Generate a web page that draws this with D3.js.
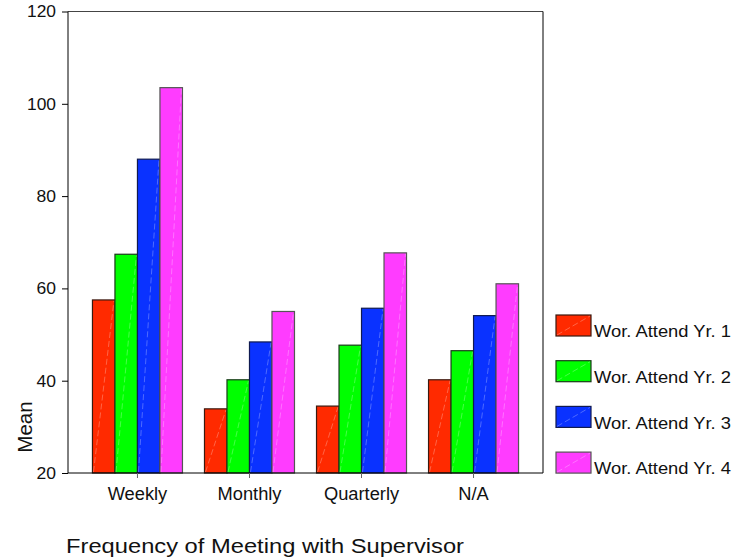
<!DOCTYPE html>
<html><head><meta charset="utf-8">
<script src="https://cdn.jsdelivr.net/npm/d3@7"></script>
<style>body{margin:0;background:#fff}svg{display:block;font-family:"Liberation Sans",Arial,sans-serif}</style>
</head><body><svg id="c" width="736" height="560"></svg>
<script>
const categories = ["Weekly", "Monthly", "Quarterly", "N/A"];
const seriesNames = ["Wor. Attend Yr. 1", "Wor. Attend Yr. 2", "Wor. Attend Yr. 3", "Wor. Attend Yr. 4"];
const yr1 = [57.5, 33.9, 34.5, 40.2];
const yr2 = [67.4, 40.2, 47.7, 46.5];
const yr3 = [88.0, 48.4, 55.7, 54.1];
const yr4 = [103.5, 55.0, 67.7, 61.0];
const yTicks = [20, 40, 60, 80, 100, 120];
const colors = ["#ff2a00", "#00ff00", "#0a32ff", "#ff3cff"];
const strokes = ["#3a1a10", "#1a3a1a", "#101a50", "#555555"];
const xTitle = "Frequency of Meeting with Supervisor";
const yTitle = "Mean";

const series = [yr1, yr2, yr3, yr4];
const svg = d3.select("#c");
const L = 68, R = 543, T = 11.5, B = 473;

const x0 = d3.scaleBand().domain(categories).range([L, R]).paddingInner(0).paddingOuter(0.12);
const x1 = d3.scaleBand().domain(d3.range(4)).range([-45, 45]).padding(0);
const y = d3.scaleLinear().domain([20, 120]).range([B, T]);

// frame
svg.append("line").attr("x1", L).attr("x2", R).attr("y1", T).attr("y2", T).attr("stroke", "#444").attr("stroke-width", 1);
svg.append("line").attr("x1", R).attr("x2", R).attr("y1", T).attr("y2", B).attr("stroke", "#000").attr("stroke-width", 1);

// bars
const g = svg.append("g");
categories.forEach((c, ci) => {
  const cx = x0(c) + x0.bandwidth() / 2;
  series.forEach((s, si) => {
    const bx = cx + x1(si), bw = x1.bandwidth(), by = y(s[ci]);
    g.append("rect").attr("x", bx).attr("y", by).attr("width", bw).attr("height", B - by)
      .attr("fill", colors[si]).attr("stroke", strokes[si]).attr("stroke-width", 1.2);
    g.append("line").attr("x1", bx + 1).attr("y1", B - 1).attr("x2", bx + bw - 1).attr("y2", by + 1)
      .attr("stroke", "#fff").attr("stroke-opacity", 0.35).attr("stroke-width", 0.8).attr("stroke-dasharray", "6,3");
  });
});

// y axis
const yAxis = d3.axisLeft(y).tickValues(yTicks).tickSize(6).tickPadding(6).tickFormat(d3.format("d"));
const ya = svg.append("g").attr("transform", `translate(${L},0)`).call(yAxis);
ya.select(".domain").attr("stroke", "#000").attr("d", `M0,${B}V${T}`);
ya.selectAll(".tick line").attr("stroke", "#000");
ya.selectAll(".tick text").attr("font-size", 17).attr("fill", "#111")
  .attr("font-family", '"Liberation Sans",Arial,sans-serif').attr("textLength", 29).attr("lengthAdjust", "spacingAndGlyphs")
  .each(function(d){ if (d < 100) d3.select(this).attr("textLength", 19.5); });

// x axis
const xAxis = d3.axisBottom(x0).tickSize(5).tickPadding(9);
const xa = svg.append("g").attr("transform", `translate(0,${B})`).call(xAxis);
xa.select(".domain").attr("stroke", "#000").attr("d", `M${L},0H${R}`);
xa.selectAll(".tick line").attr("stroke", "#666");
xa.selectAll(".tick text").attr("font-size", 18.3).attr("fill", "#111")
  .attr("font-family", '"Liberation Sans",Arial,sans-serif');

// titles
svg.append("text").attr("x", 66).attr("y", 553).attr("font-size", 20.5).attr("fill", "#111")
  .attr("textLength", 398).attr("lengthAdjust", "spacingAndGlyphs").text(xTitle);
svg.append("text").attr("transform", "translate(31.5,427) rotate(-90)").attr("text-anchor", "middle")
  .attr("font-size", 20.5).attr("fill", "#111").text(yTitle);

// legend
const lg = svg.append("g");
seriesNames.forEach((n, i) => {
  const ly = 315 + i * 45.7;
  lg.append("rect").attr("x", 556).attr("y", ly).attr("width", 35).attr("height", 21)
    .attr("fill", colors[i]).attr("stroke", strokes[i]).attr("stroke-width", 1.2);
  lg.append("line").attr("x1", 557).attr("y1", ly + 20).attr("x2", 590).attr("y2", ly + 1)
    .attr("stroke", "#fff").attr("stroke-opacity", 0.35).attr("stroke-width", 0.8).attr("stroke-dasharray", "6,3");
  lg.append("text").attr("x", 594).attr("y", ly + 22.3).attr("font-size", 16.3).attr("fill", "#111")
    .attr("textLength", 137).attr("lengthAdjust", "spacingAndGlyphs").text(n);
});
</script></body></html>
